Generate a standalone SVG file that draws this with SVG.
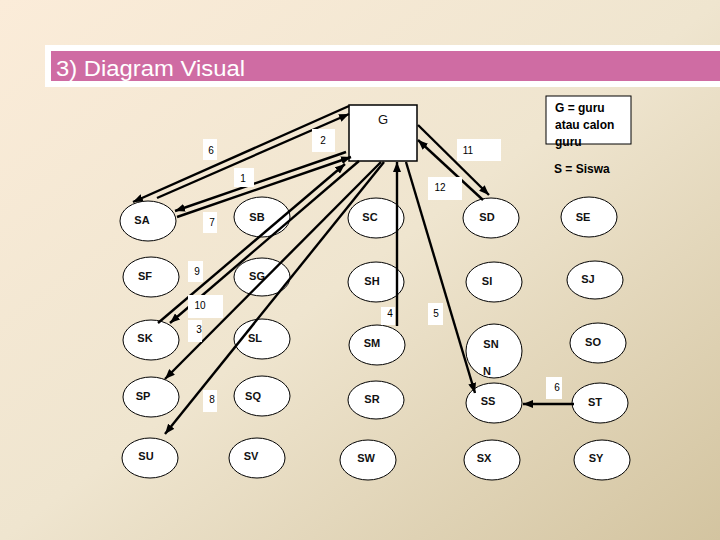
<svg xmlns="http://www.w3.org/2000/svg" width="720" height="540" viewBox="0 0 720 540">
<defs>
<linearGradient id="bg" x1="0" y1="0" x2="1" y2="1">
<stop offset="0" stop-color="#fbecd9"/>
<stop offset="0.5" stop-color="#efe5cf"/>
<stop offset="1" stop-color="#d3c4a0"/>
</linearGradient>
<marker id="ah" markerUnits="userSpaceOnUse" markerWidth="10" markerHeight="8" refX="10" refY="4" orient="auto">
<path d="M0,0 L10,4 L0,8 z" fill="#000"/>
</marker>
<style>
.n ellipse{fill:#fff;stroke:#000;stroke-width:1}
.n text{font-family:"Liberation Sans",Arial,sans-serif;font-size:11px;font-weight:bold;fill:#111;text-anchor:middle}
.c line{stroke:#000;stroke-width:2.4;marker-end:url(#ah)}
.lb rect{fill:#fff}
.lb text{font-family:"Liberation Sans",Arial,sans-serif;font-size:10px;fill:#000;text-anchor:middle}
.lg{font-family:"Liberation Sans",Arial,sans-serif;font-size:12px;font-weight:bold;fill:#000}
</style>
</defs>
<rect width="720" height="540" fill="url(#bg)"/>
<g id="title">
<rect x="45" y="45" width="675" height="42" fill="#fff"/>
<rect x="51" y="51" width="669" height="30" fill="#cf6ca3"/>
<text x="56" y="76" font-family="Liberation Sans,Arial,sans-serif" font-size="22" fill="#fff" textLength="189" lengthAdjust="spacingAndGlyphs">3) Diagram Visual</text>
</g>
<g id="legend">
<rect x="546" y="96" width="85" height="48" fill="#fff" stroke="#000" stroke-width="1"/>
<text class="lg" x="555" y="112">G = guru</text>
<text class="lg" x="555" y="129">atau calon</text>
<text class="lg" x="555" y="146">guru</text>
<text class="lg" x="554" y="173">S  = Siswa</text>
</g>
<g id="G" class="n">
<rect x="349" y="105" width="68" height="56" fill="#fff" stroke="#000" stroke-width="1.5"/>
<text x="383" y="124" style="font-size:13px;font-weight:normal">G</text>
</g>
<g id="SA" class="n"><ellipse cx="148" cy="221" rx="28" ry="20"/><text x="142" y="224">SA</text></g>
<g id="SB" class="n"><ellipse cx="262" cy="217" rx="28" ry="20"/><text x="257" y="221">SB</text></g>
<g id="SC" class="n"><ellipse cx="376" cy="218" rx="28" ry="20"/><text x="370" y="221">SC</text></g>
<g id="SD" class="n"><ellipse cx="491" cy="218" rx="28" ry="20"/><text x="487" y="221">SD</text></g>
<g id="SE" class="n"><ellipse cx="589" cy="217" rx="28" ry="20"/><text x="583" y="221">SE</text></g>
<g id="SF" class="n"><ellipse cx="151" cy="277" rx="28" ry="20"/><text x="145" y="280">SF</text></g>
<g id="SG" class="n"><ellipse cx="262" cy="277" rx="28" ry="19"/><text x="257" y="280">SG</text></g>
<g id="SH" class="n"><ellipse cx="376" cy="282" rx="28" ry="20"/><text x="372" y="285">SH</text></g>
<g id="SI" class="n"><ellipse cx="494" cy="282" rx="28" ry="20"/><text x="487" y="285">SI</text></g>
<g id="SJ" class="n"><ellipse cx="595" cy="280" rx="28" ry="19"/><text x="588" y="283">SJ</text></g>
<g id="SK" class="n"><ellipse cx="151" cy="340" rx="28" ry="20"/><text x="145" y="342">SK</text></g>
<g id="SL" class="n"><ellipse cx="262" cy="339" rx="28" ry="20"/><text x="255" y="342">SL</text></g>
<g id="SM" class="n"><ellipse cx="377" cy="345" rx="28" ry="20"/><text x="372" y="347">SM</text></g>
<g id="SN" class="n"><ellipse cx="494" cy="351" rx="28" ry="27"/><text x="491" y="348">SN</text><text x="487" y="375">N</text></g>
<g id="SO" class="n"><ellipse cx="598" cy="343" rx="28" ry="20"/><text x="593" y="346">SO</text></g>
<g id="SP" class="n"><ellipse cx="151" cy="397" rx="28" ry="20"/><text x="143" y="400">SP</text></g>
<g id="SQ" class="n"><ellipse cx="262" cy="396" rx="28" ry="20"/><text x="253" y="400">SQ</text></g>
<g id="SR" class="n"><ellipse cx="376" cy="400" rx="28" ry="19"/><text x="372" y="403">SR</text></g>
<g id="SS" class="n"><ellipse cx="494" cy="403" rx="28" ry="20"/><text x="488" y="405">SS</text></g>
<g id="ST" class="n"><ellipse cx="600" cy="403" rx="28" ry="20"/><text x="595" y="406">ST</text></g>
<g id="SU" class="n"><ellipse cx="150" cy="458" rx="28" ry="20"/><text x="146" y="460">SU</text></g>
<g id="SV" class="n"><ellipse cx="257" cy="458" rx="28" ry="20"/><text x="251" y="460">SV</text></g>
<g id="SW" class="n"><ellipse cx="368" cy="460" rx="28" ry="20"/><text x="366" y="462">SW</text></g>
<g id="SX" class="n"><ellipse cx="492" cy="460" rx="28" ry="20"/><text x="484" y="462">SX</text></g>
<g id="SY" class="n"><ellipse cx="602" cy="460" rx="28" ry="20"/><text x="596" y="462">SY</text></g>
<g id="connectors" class="c">
<line x1="349" y1="106" x2="133" y2="202"/>
<line x1="157" y1="198" x2="349" y2="114"/>
<line x1="346" y1="152" x2="175" y2="211"/>
<line x1="177" y1="217" x2="351" y2="157"/>
<line x1="158" y1="323" x2="345" y2="164"/>
<line x1="359" y1="161" x2="170" y2="323"/>
<line x1="381" y1="162" x2="165" y2="379"/>
<line x1="384" y1="162" x2="165" y2="434"/>
<line x1="397" y1="326" x2="397" y2="162"/>
<line x1="406" y1="162" x2="475" y2="393"/>
<line x1="418" y1="125" x2="489" y2="195"/>
<line x1="483" y1="200" x2="418" y2="140"/>
<line x1="574" y1="404" x2="523" y2="404"/>
</g>
<g id="labels" class="lb">
<rect x="203" y="139" width="14" height="21"/><text x="211" y="154">6</text>
<rect x="312" y="129" width="23" height="23"/><text x="323" y="144">2</text>
<rect x="234" y="168" width="20" height="19"/><text x="243" y="182">1</text>
<rect x="457" y="139" width="44" height="22"/><text x="468" y="154">11</text>
<rect x="428" y="177" width="34" height="23"/><text x="440" y="191">12</text>
<rect x="203" y="212" width="14" height="21"/><text x="212" y="226">7</text>
<rect x="188" y="261" width="15" height="21"/><text x="197" y="275">9</text>
<rect x="188" y="295" width="35" height="23"/><text x="200" y="309">10</text>
<rect x="188" y="320" width="14" height="22"/><text x="199" y="333">3</text>
<rect x="203" y="390" width="14" height="22"/><text x="212" y="403">8</text>
<rect x="381" y="307" width="14" height="18"/><text x="390" y="317">4</text>
<rect x="428" y="303" width="15" height="22"/><text x="436" y="317">5</text>
<rect x="546" y="377" width="16" height="22"/><text x="557" y="391">6</text>
</g>
</svg>
